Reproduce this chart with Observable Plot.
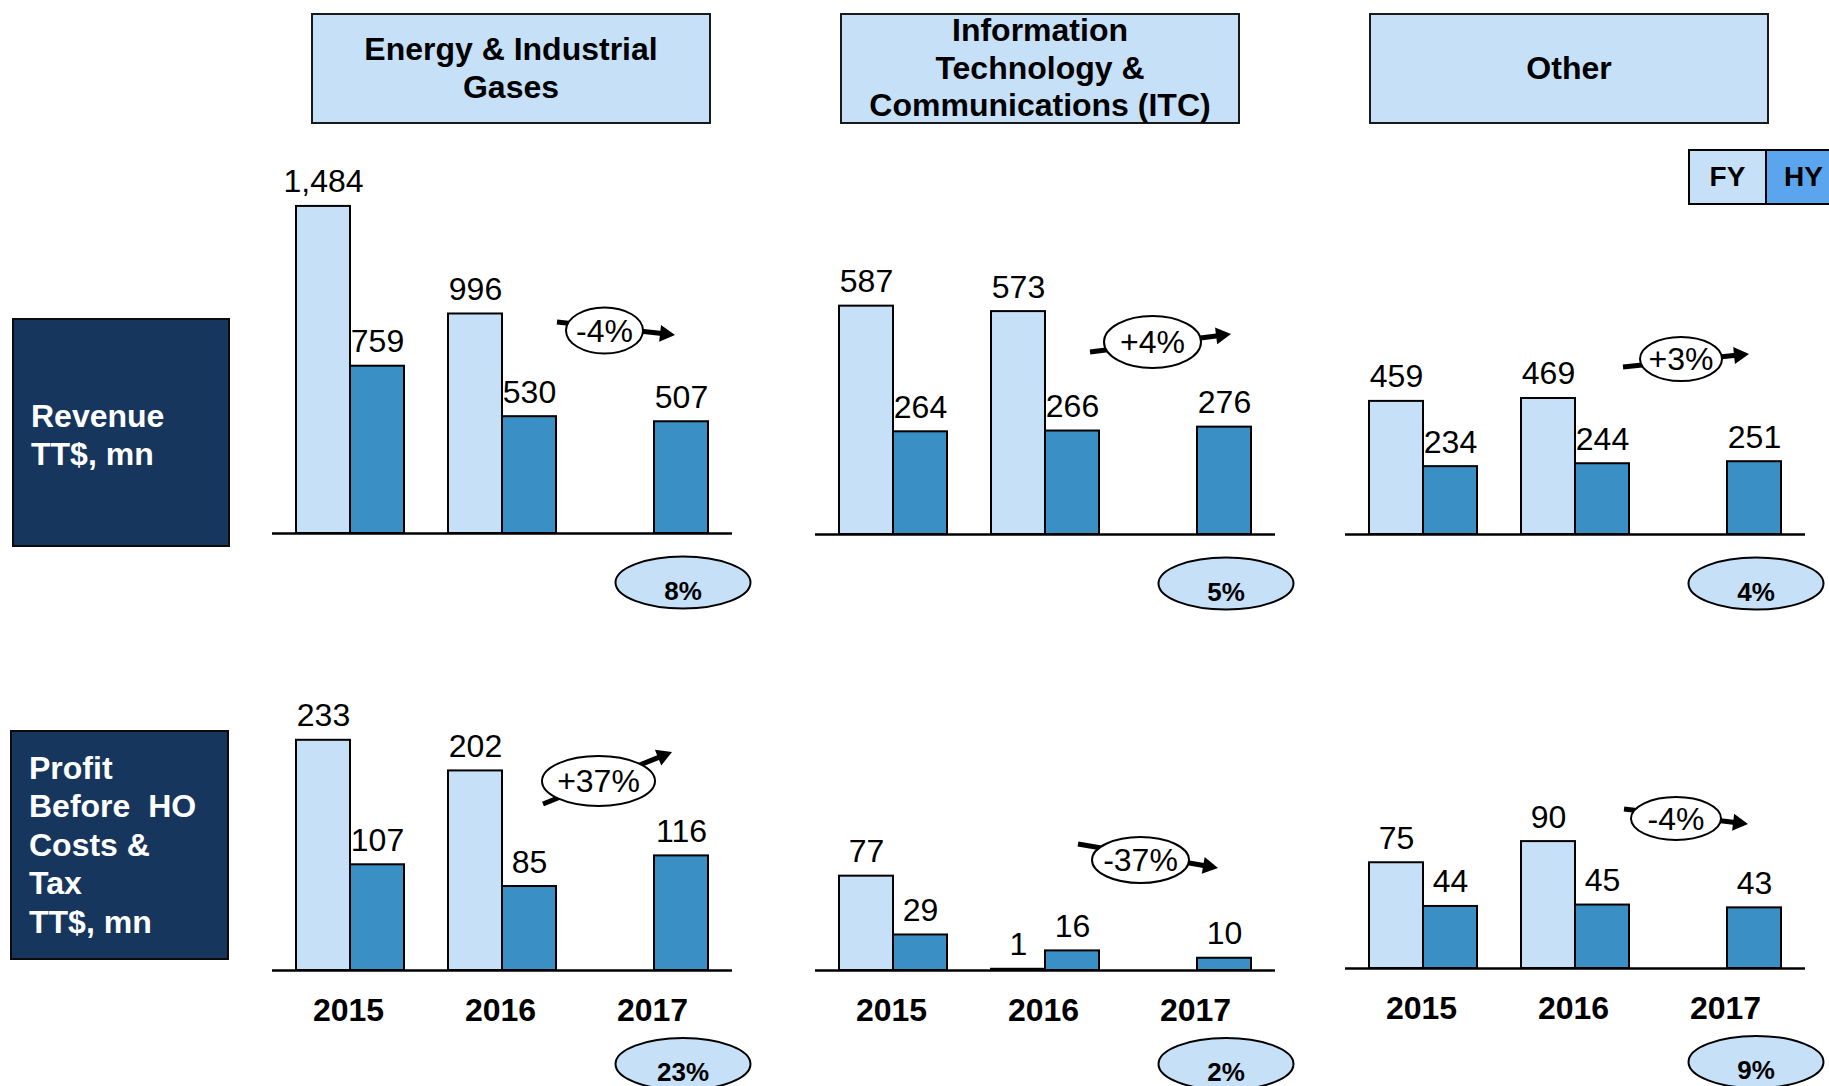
<!DOCTYPE html>
<html>
<head>
<meta charset="utf-8">
<script src="https://cdn.jsdelivr.net/npm/d3@7"></script>
<script src="https://cdn.jsdelivr.net/npm/@observablehq/plot@0.6"></script>
<style>
  body { margin: 0; background: #fff; font-family: "Liberation Sans", Arial, sans-serif; }
  #root { position: relative; width: 1829px; height: 1086px; overflow: hidden; background: #fff; }
  .hdr { position: absolute; box-sizing: border-box; background: #c6e0f8; border: 2px solid #1a1a1a;
         display: flex; align-items: center; justify-content: center; text-align: center;
         font-weight: bold; font-size: 32px; line-height: 37.5px; color: #000; white-space: pre; }
  .side { position: absolute; box-sizing: border-box; background: #17365d; border: 2px solid #0b0b0b;
          display: flex; align-items: center; padding-left: 17px; color: #fff;
          font-weight: bold; font-size: 32px; line-height: 38.5px; white-space: pre; }
  .leg { position: absolute; box-sizing: border-box; border: 2.5px solid #000; display: flex;
         align-items: center; justify-content: center; font-weight: bold; font-size: 28px; color: #000; z-index: 5; }
  svg.panel { position: absolute; }
</style>
</head>
<body>
<div id="root"></div>
<script>
// ---------------- DATA ----------------
const years = ["2015", "2016", "2017"];
const segmentTitles = ["Energy & Industrial\nGases", "Information\nTechnology &\nCommunications (ITC)", "Other"];
const rowTitles = ["Revenue\nTT$, mn", "Profit\nBefore  HO\nCosts &\nTax\nTT$, mn"];
const seriesNames = ["FY", "HY"];

// Revenue (TT$ mn) by segment: Energy, ITC, Other
const revenueFY = [[1484, 996, null], [587, 573, null], [459, 469, null]];
const revenueHY = [[759, 530, 507], [264, 266, 276], [234, 244, 251]];
// Profit before HO costs & tax (TT$ mn)
const profitFY = [[233, 202, null], [77, 1, null], [75, 90, null]];
const profitHY = [[107, 85, 116], [29, 16, 10], [44, 45, 43]];

const revenueGrowth = ["-4%", "+4%", "+3%"];
const profitGrowth = ["+37%", "-37%", "-4%"];
const revenueShare = ["8%", "5%", "4%"];
const profitShare = ["23%", "2%", "9%"];

// ---------------- LAYOUT / STYLE ----------------
const FY_FILL = "#c6e0f8";
const HY_FILL = "#3a8fc4";
const LEG_HY = "#5ba4ee";
const FONT = "'Liberation Sans', Arial, sans-serif";
const axisX = [272, 815, 1345];
const rows = {
  rev:  {base: [533, 534, 534], px: [0.2204, 0.389, 0.29],  svgTop: 150, shareDy: 49.5},
  prof: {base: [970, 970, 968], px: [0.988, 1.225, 1.41],  svgTop: 640, shareDy: 94}
};
// growth bubble placement relative to (x("2017"), y(0))
const growthLayout = {
  rev: [
    {cx: 4.5, cy: -202.5, rx: 38.5, ry: 23, a: [-43, -211, 75, -198]},
    {cx: 9.5, cy: -192, rx: 48.5, ry: 26, a: [-53, -182, 88, -200]},
    {cx: 8, cy: -175, rx: 41, ry: 22, a: [-50, -167, 76, -180]}
  ],
  prof: [
    {cx: -1.5, cy: -189, rx: 56.5, ry: 25, a: [-57, -166, 72, -218]},
    {cx: -2.5, cy: -110, rx: 48.5, ry: 23, a: [-65, -126, 75, -102]},
    {cx: 3, cy: -149.5, rx: 45, ry: 21.5, a: [-49, -159, 75, -144]}
  ]
};

const root = document.getElementById("root");
const fmt = d3.format(",");

function addDiv(cls, text, left, top, w, h, extra) {
  const d = document.createElement("div");
  d.className = cls;
  d.textContent = text;
  Object.assign(d.style, {left: left + "px", top: top + "px", width: w + "px", height: h + "px"}, extra || {});
  root.appendChild(d);
  return d;
}

// headers
const hdrX = [311, 840, 1369];
segmentTitles.forEach((t, i) => addDiv("hdr", t, hdrX[i], 13, 400, 111));
// row titles
addDiv("side", rowTitles[0], 12, 318, 218, 229, {paddingTop: "6px", lineHeight: "37.5px"});
addDiv("side", rowTitles[1], 10, 730, 219, 230);

function annotation(i, row, growth, share) {
  const L = growthLayout[row][i];
  return (index, scales) => {
    const x = scales.x, y = scales.y;
    const bw = typeof x.bandwidth === "function" ? x.bandwidth() : 108;
    const x17 = x("2017"), base = y(0);
    const g = d3.create("svg:g");
    // arrow
    const [sx, sy, tx, ty] = [x17 + L.a[0], base + L.a[1], x17 + L.a[2], base + L.a[3]];
    const len = Math.hypot(tx - sx, ty - sy);
    const ux = (tx - sx) / len, uy = (ty - sy) / len;
    const hl = 15, hw = 8.5;
    g.append("line").attr("x1", sx).attr("y1", sy).attr("x2", tx - ux * (hl - 2)).attr("y2", ty - uy * (hl - 2))
      .attr("stroke", "#000").attr("stroke-width", 5);
    const bx = tx - ux * hl, by = ty - uy * hl;
    g.append("path").attr("d", `M${tx},${ty}L${bx - uy * hw},${by + ux * hw}L${bx + uy * hw},${by - ux * hw}Z`).attr("fill", "#000");
    // growth bubble
    g.append("ellipse").attr("cx", x17 + L.cx).attr("cy", base + L.cy).attr("rx", L.rx).attr("ry", L.ry)
      .attr("fill", "#fff").attr("stroke", "#000").attr("stroke-width", 2);
    g.append("text").attr("x", x17 + L.cx).attr("y", base + L.cy + 11).attr("text-anchor", "middle")
      .attr("font-size", 32).attr("fill", "#000").text(growth);
    // share bubble under HY 2017 bar
    const scx = x17 + bw * 0.75 + 2, scy = base + rows[row].shareDy;
    g.append("ellipse").attr("cx", scx).attr("cy", scy).attr("rx", 67.5).attr("ry", 26)
      .attr("fill", FY_FILL).attr("stroke", "#000").attr("stroke-width", 2);
    g.append("text").attr("x", scx).attr("y", scy + 17).attr("text-anchor", "middle")
      .attr("font-size", 26).attr("font-weight", "bold").attr("fill", "#000").text(share);
    return g.node();
  };
}

function panel(i, row) {
  const isRev = row === "rev";
  const fy = isRev ? revenueFY[i] : profitFY[i];
  const hy = isRev ? revenueHY[i] : profitHY[i];
  const R = rows[row];
  const base = R.base[i];
  const svgTop = R.svgTop;
  const height = isRev ? base - svgTop + 100 : 1086 - svgTop;
  const marginBottom = svgTop + height - base;
  const yMax = (base - svgTop - 20) / R.px[i];
  const fyRows = years.map((yr, k) => ({year: yr, series: seriesNames[0], value: fy[k]})).filter(d => d.value != null);
  const hyRows = years.map((yr, k) => ({year: yr, series: seriesNames[1], value: hy[k]})).filter(d => d.value != null);
  const marks = [
    Plot.barY(fyRows, {x: "year", y: "value", fill: FY_FILL, stroke: "#000", strokeWidth: 2, insetRight: 54}),
    Plot.barY(hyRows, {x: "year", y: "value", fill: HY_FILL, stroke: "#000", strokeWidth: 2, insetLeft: 54}),
    Plot.ruleY([0], {stroke: "#000", strokeWidth: 2.5}),
    Plot.text(fyRows, {x: "year", y: "value", text: d => fmt(d.value), dx: -27, dy: -14, lineAnchor: "bottom", fontSize: 32, fill: "#000"}),
    Plot.text(hyRows, {x: "year", y: "value", text: d => fmt(d.value), dx: 27, dy: -14, lineAnchor: "bottom", fontSize: 32, fill: "#000"}),
    annotation(i, row, isRev ? revenueGrowth[i] : profitGrowth[i], isRev ? revenueShare[i] : profitShare[i])
  ];
  if (!isRev) {
    marks.push(Plot.text(years, {x: d => d, y: d => 0, dx: -2, dy: 50, lineAnchor: "bottom", fontSize: 32, fontWeight: "bold", fill: "#000"}));
  }
  const svg = Plot.plot({
    width: 520, height,
    marginLeft: 20, marginRight: 40, marginTop: 20, marginBottom,
    x: {domain: years, paddingInner: 0.2918, paddingOuter: 0.1541, axis: null},
    y: {domain: [0, yMax], axis: null},
    style: {fontFamily: FONT, fontSize: "32px", overflow: "visible", background: "transparent", color: "#000", maxWidth: "none"},
    marks
  });
  svg.classList.add("panel");
  svg.style.left = (axisX[i] - 20) + "px";
  svg.style.top = svgTop + "px";
  root.appendChild(svg);
}

for (let i = 0; i < 3; i++) { panel(i, "rev"); panel(i, "prof"); }

// legend
addDiv("leg", seriesNames[0], 1688, 149, 79, 56, {background: FY_FILL});
addDiv("leg", seriesNames[1], 1765, 149, 80, 56, {background: LEG_HY, justifyContent: "flex-start", paddingLeft: "17px"});
</script>
</body>
</html>
